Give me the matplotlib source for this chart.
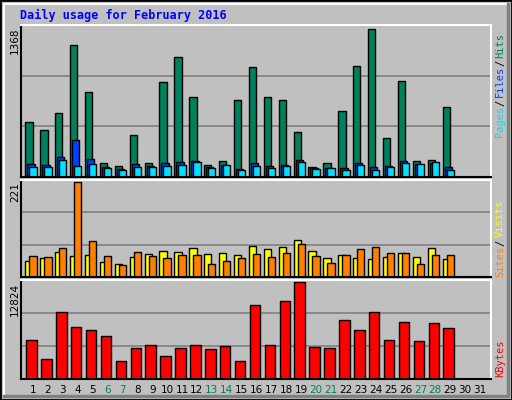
import matplotlib
matplotlib.use("Agg")
import matplotlib.pyplot as plt
import matplotlib.patches as mpatches
import numpy as np

days = list(range(1, 32))
hits = [504, 430, 588, 1219, 783, 133, 105, 384, 133, 876, 1108, 737, 115, 152, 709,
        1015, 737, 709, 412, 96, 133, 607, 1024, 1368, 356, 885, 152, 161, 644]
files = [124, 115, 189, 337, 170, 96, 77, 124, 105, 133, 142, 152, 96, 115, 77,
         133, 105, 115, 161, 87, 87, 87, 133, 96, 105, 152, 124, 133, 96]
pages = [96, 96, 161, 105, 124, 87, 68, 96, 96, 105, 115, 142, 87, 115, 68,
         105, 87, 105, 142, 77, 87, 68, 115, 68, 96, 133, 124, 142, 68]
sites = [37, 44, 58, 49, 51, 34, 30, 46, 53, 61, 58, 68, 53, 56, 51,
         73, 65, 70, 87, 61, 44, 51, 44, 41, 46, 56, 46, 68, 41]
visits = [49, 46, 68, 221, 85, 49, 27, 58, 49, 44, 51, 51, 30, 37, 44,
          53, 46, 56, 77, 49, 32, 51, 65, 70, 56, 56, 30, 51, 51]
kbytes = [5242, 2714, 8892, 6926, 6505, 5663, 2434, 4118, 4540, 2995, 4118, 4540, 3978, 4399, 2434,
          9875, 4540, 10296, 12824, 4259, 4118, 7769, 6505, 8892, 5242, 7628, 5101, 7488, 6786]
weekends = [6, 7, 13, 14, 20, 21, 27, 28]

C_HITS, C_FILES, C_PAGES = "#00805C", "#0040FF", "#00E0FF"
C_SITES, C_VISITS, C_KB = "#FFFF00", "#FF8000", "#FF0000"
BG = "#C0C0C0"

fig = plt.figure(figsize=(5.12, 4.0), dpi=100)
fig.patch.set_facecolor(BG)
# outer border and raised frame
fig.patches.append(mpatches.Rectangle((0, 0), 1, 1, transform=fig.transFigure,
                                      fill=False, ec="black", lw=2))
fig.patches.append(mpatches.Rectangle((0.008, 0.01), 0.984, 0.98, transform=fig.transFigure,
                                      fill=False, ec="white", lw=1.5))
fig.lines.append(plt.Line2D([0.008, 0.992, 0.992], [0.01, 0.01, 0.99], transform=fig.transFigure,
                            color="#808080", lw=2.5))

fm = dict(family="DejaVu Sans Mono", weight="bold")
x = np.arange(1, 30)
xlim = (0.195, 31.74)
L, W = 21 / 512, 470 / 512


def setup(ax, top):
    ax.set_facecolor(BG)
    ax.set_xlim(*xlim)
    ax.set_ylim(0, top * 1.025)
    yl = top * 1.025
    for g in (yl / 3, 2 * yl / 3):
        ax.axhline(g, color="#808080", lw=1.2, zorder=0)
    ax.set_xticks([])
    ax.set_yticks([])
    for s in ("left", "bottom"):
        ax.spines[s].set_color("black")
    for s in ("top", "right"):
        ax.spines[s].set_color("white")
    for s in ax.spines.values():
        s.set_linewidth(1.5)


ax1 = fig.add_axes([L, 1 - 177 / 400, W, 152 / 400])
setup(ax1, max(hits))
ax1.bar(x - 0.27, hits, 0.49, color=C_HITS, ec="black", lw=1)
ax1.bar(x - 0.134, files, 0.49, color=C_FILES, ec="black", lw=1)
ax1.bar(x, pages, 0.49, color=C_PAGES, ec="black", lw=1)

ax2 = fig.add_axes([L, 1 - 277 / 400, W, 97 / 400])
setup(ax2, max(visits))
ax2.bar(x - 0.27, sites, 0.49, color=C_SITES, ec="black", lw=1)
ax2.bar(x, visits, 0.49, color=C_VISITS, ec="black", lw=1)

ax3 = fig.add_axes([L, 1 - 379 / 400, W, 99 / 400])
setup(ax3, max(kbytes))
ax3.bar(x - 0.1, kbytes, 0.7, color=C_KB, ec="black", lw=1)

ax3.set_xticks(days)
ax3.set_xticklabels([str(d) for d in days], fontsize=7.5)
ax3.tick_params(axis="x", length=0, pad=4)
for lab, d in zip(ax3.get_xticklabels(), days):
    lab.set_color("#00805C" if d in weekends else "black")

fig.text(20 / 512, 1 - 15 / 400, "Daily usage for February 2016", color="#0000FF",
         fontsize=8.5, va="center", **fm)

# left max labels
for txt, ytop in (("1368", 28), ("221", 182), ("12824", 283)):
    fig.text(15 / 512, 1 - ytop / 400, txt, rotation=90, ha="center", va="top", fontsize=7.5)


def side_label(parts, ybottom):
    y = 1 - ybottom / 400
    for t, c in parts:
        fig.text(500 / 512, y, t, rotation=90, ha="center", va="bottom",
                 color=c, fontsize=7.5, family="DejaVu Sans Mono")
        y += (len(t) * 5.6 + 3) / 400


side_label([("Pages", C_PAGES), ("/", "black"), ("Files", C_FILES), ("/", "black"), ("Hits", C_HITS)], 137)
side_label([("Sites", C_VISITS), ("/", "black"), ("Visits", C_SITES)], 277)
side_label([("KBytes", C_KB)], 377)

fig.savefig("out.png", dpi=100, facecolor=BG)
